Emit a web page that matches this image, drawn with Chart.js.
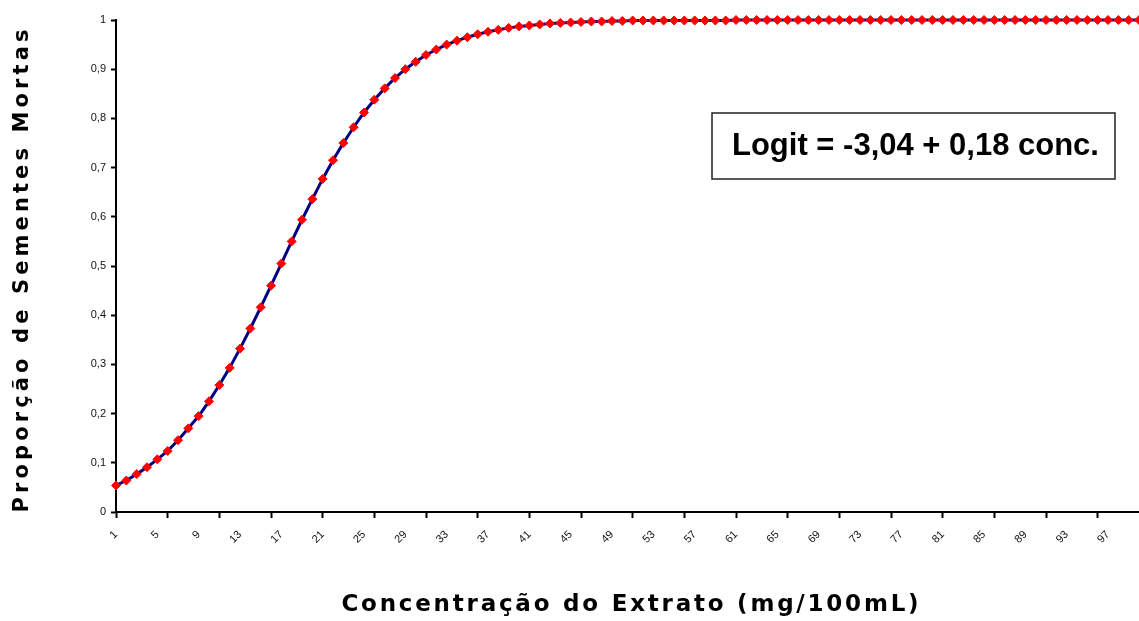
<!DOCTYPE html>
<html>
<head>
<meta charset="utf-8">
<title>Proporção de Sementes Mortas</title>
<script src="https://cdn.jsdelivr.net/npm/chart.js@4.4.1/dist/chart.umd.min.js"></script>
<style>
  html, body { margin: 0; padding: 0; background: #fff; }
  #wrap { width: 1139px; height: 621px; position: relative; }
</style>
</head>
<body>
<div id="wrap"><canvas id="logitChart"></canvas></div>
<script>
  /* Data */
  var concentracoes = [];
  for (var c = 1; c <= 100; c++) concentracoes.push(String(c));

  var proporcao = [
    0.054, 0.064, 0.077, 0.091, 0.107, 0.124, 0.146, 0.170, 0.195, 0.225,
    0.258, 0.293, 0.332, 0.373, 0.416, 0.460, 0.505, 0.550, 0.594, 0.636,
    0.677, 0.715, 0.750, 0.782, 0.812, 0.838, 0.861, 0.882, 0.900, 0.915,
    0.929, 0.940, 0.950, 0.958, 0.965, 0.971, 0.976, 0.980, 0.984, 0.987,
    0.989, 0.991, 0.993, 0.994, 0.995, 0.996, 0.997, 0.997, 0.998, 0.998,
    0.999, 0.999, 0.999, 0.999, 0.999, 0.999, 0.999, 0.999, 0.999, 0.999,
    1, 1, 1, 1, 1, 1, 1, 1, 1, 1,
    1, 1, 1, 1, 1, 1, 1, 1, 1, 1,
    1, 1, 1, 1, 1, 1, 1, 1, 1, 1,
    1, 1, 1, 1, 1, 1, 1, 1, 1, 1
  ];

  var yTicks = [0, 0.1, 0.2, 0.3, 0.4, 0.5, 0.6, 0.7, 0.8, 0.9, 1];

  var tituloY = 'Proporção de Sementes Mortas';
  var tituloX = 'Concentração do Extrato (mg/100mL)';
  var equacao = 'Logit = -3,04 + 0,18 conc.';

  // draw text spread to a given width
  function spreadText(ctx, text, x, y, width) {
    ctx.letterSpacing = '0px';
    var w = ctx.measureText(text).width;
    var sp = (width - w) / text.length;
    ctx.letterSpacing = sp.toFixed(2) + 'px';
    ctx.fillText(text, x + sp / 2, y);
    ctx.letterSpacing = '0px';
  }

  /* Titles and equation box */
  var extras = {
    id: 'extras',
    afterDraw: function(chart) {
      var ctx = chart.ctx;
      ctx.save();
      ctx.fillStyle = '#000';
      ctx.textAlign = 'center';
      ctx.textBaseline = 'middle';

      ctx.font = 'bold 23px "DejaVu Sans", sans-serif';
      spreadText(ctx, tituloX, 630, 605, 580);

      ctx.font = 'bold 21px "DejaVu Sans", sans-serif';
      ctx.translate(23, 271);
      ctx.rotate(-Math.PI / 2);
      spreadText(ctx, tituloY, 0, 0, 487);
      ctx.restore();

      ctx.save();
      ctx.fillStyle = '#fff';
      ctx.fillRect(712, 113, 403, 66);
      ctx.strokeStyle = '#222';
      ctx.lineWidth = 1.5;
      ctx.strokeRect(712, 113, 403, 66);
      ctx.fillStyle = '#000';
      ctx.font = 'bold 31px "Liberation Sans", Arial, sans-serif';
      ctx.textAlign = 'left';
      ctx.textBaseline = 'middle';
      ctx.fillText(equacao, 732, 146);
      ctx.restore();
    }
  };

  window.addEventListener('DOMContentLoaded', function () {
    var ctx = document.getElementById('logitChart').getContext('2d');
    new Chart(ctx, {
      type: 'line',
      data: {
        labels: concentracoes,
        datasets: [{
          data: proporcao,
          borderColor: '#000080',
          borderWidth: 3,
          tension: 0,
          clip: false,
          pointStyle: 'rectRot',
          pointRadius: 4.5,
          pointBackgroundColor: '#ff0000',
          pointBorderColor: '#ff0000',
          pointBorderWidth: 1
        }]
      },
      options: {
        responsive: true,
        maintainAspectRatio: false,
        animation: false,
        layout: { autoPadding: false, padding: { top: 20, right: 0, left: 0, bottom: 0 } },
        plugins: {
          legend: { display: false },
          tooltip: { enabled: false }
        },
        scales: {
          x: {
            offset: false,
            border: { color: '#000', width: 2 },
            grid: {
              drawOnChartArea: false,
              drawTicks: true,
              tickLength: 6,
              tickWidth: 2,
              tickColor: function(c) { return c.index % 5 === 0 ? '#000' : 'rgba(0,0,0,0)'; }
            },
            ticks: {
              autoSkip: false,
              maxRotation: 45,
              minRotation: 45,
              padding: 10,
              color: '#111',
              font: { family: '"Liberation Sans", Arial, sans-serif', size: 11 },
              callback: function(v, i) { return i % 4 === 0 ? concentracoes[i] : ''; }
            },
            afterFit: function(scale) {
              scale.height = 109;
              scale.paddingLeft = 0;
              scale.paddingRight = 0;
            }
          },
          y: {
            min: 0,
            max: 1,
            border: { color: '#000', width: 2 },
            grid: {
              drawOnChartArea: false,
              drawTicks: true,
              tickLength: 5,
              tickWidth: 2,
              tickColor: '#000'
            },
            afterBuildTicks: function(scale) {
              scale.ticks = yTicks.map(function(v) { return { value: v }; });
            },
            ticks: {
              padding: 5,
              color: '#111',
              font: { family: '"Liberation Sans", Arial, sans-serif', size: 11 },
              callback: function(v) { return String(Math.round(v * 10) / 10).replace('.', ','); }
            },
            afterFit: function(scale) { scale.width = 116; }
          }
        }
      },
      plugins: [extras]
    });
  });
</script>
</body>
</html>
